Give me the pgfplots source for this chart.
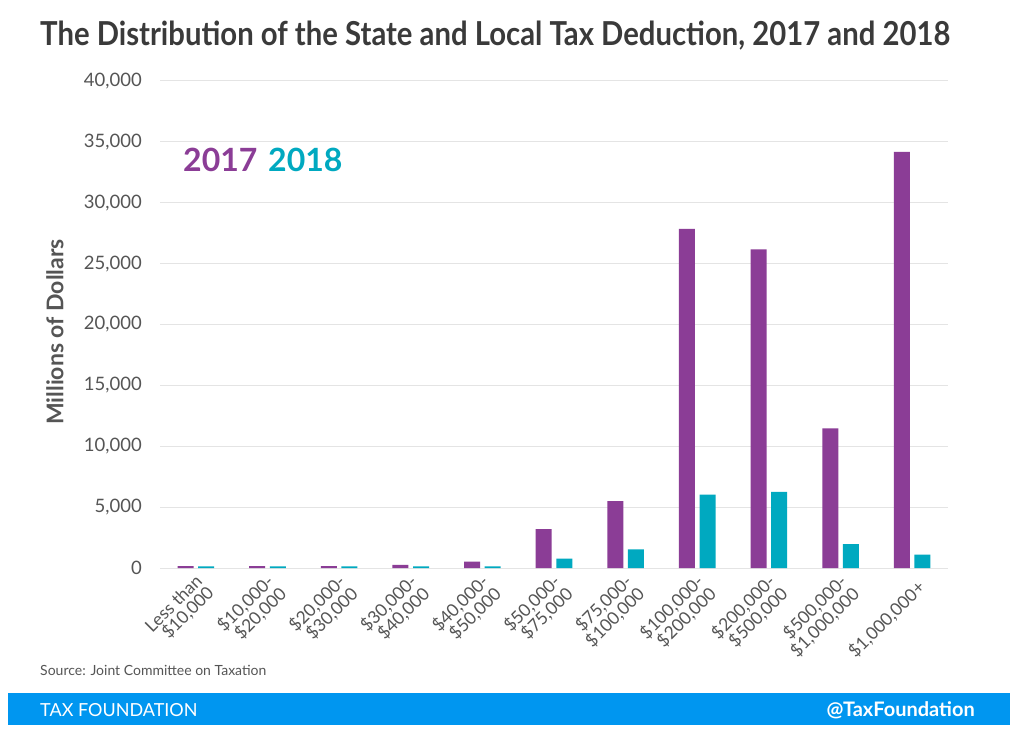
\documentclass[border=0pt]{standalone}
\usepackage{pgfplots}
\pgfplotsset{compat=1.18}
\usepackage{fontspec}
\setmainfont{Lato}
\usepackage{graphicx}
\definecolor{purp}{RGB}{139,61,150}
\definecolor{teal2}{RGB}{0,169,192}
\definecolor{tfblue}{RGB}{0,150,240}
\definecolor{txtgray}{RGB}{85,85,85}
\definecolor{titlegray}{RGB}{58,58,58}
\definecolor{gridgray}{RGB}{228,228,228}
\begin{document}
\begin{tikzpicture}[x=1pt,y=1pt]
\path[use as bounding box, fill=white] (0,0) rectangle (1024,729);
\begin{axis}[
  at={(160pt,161pt)}, anchor=south west,
  scale only axis, width=788pt, height=487pt,
  ymin=0, ymax=40000, xmin=-0.5, xmax=10.5,
  ybar=4.6pt, bar width=16pt,
  axis lines*=left, axis line style={draw=none},
  ymajorgrids, grid style={gridgray, line width=1pt},
  major tick length=0pt,
  ytick={0,5000,...,40000},
  scaled y ticks=false,
  /pgf/number format/.cd, 1000 sep={,}, assume math mode=true, /pgfplots/.cd,
  yticklabel style={font=\fontsize{18.5}{20}\selectfont, text=txtgray, inner sep=0pt, xshift=-18pt},
  xtick={0,...,10},
  xticklabels={{Less than\\\$10,000},{\$10,000-\\\$20,000},{\$20,000-\\\$30,000},{\$30,000-\\\$40,000},{\$40,000-\\\$50,000},{\$50,000-\\\$75,000},{\$75,000-\\\$100,000},{\$100,000-\\\$200,000},{\$200,000-\\\$500,000},{\$500,000-\\\$1,000,000},{\$1,000,000+}},
  xticklabel style={font=\fontsize{17.5}{16.5}\selectfont, text=txtgray, align=right, xshift=12pt, yshift=-14pt, rotate=45, anchor=east},
]
\addplot[fill=purp, draw=none] coordinates {(0,160) (1,160) (2,160) (3,260) (4,530) (5,3200) (6,5500) (7,27850) (8,26180) (9,11460) (10,34180)};
\addplot[fill=teal2, draw=none] coordinates {(0,130) (1,130) (2,130) (3,130) (4,140) (5,770) (6,1530) (7,6030) (8,6250) (9,1970) (10,1090)};
\end{axis}
\node[anchor=base west, text=titlegray, inner sep=0pt] at (40,683) {\resizebox{910pt}{\height}{\fontsize{33}{36}\selectfont\bfseries The Distribution of the State and Local Tax Deduction, 2017 and 2018}};
\node[anchor=base west, inner sep=0pt, font=\fontsize{32}{32}\selectfont\bfseries, text=purp] at (183,557) {2017};
\node[anchor=base west, inner sep=0pt, font=\fontsize{32}{32}\selectfont\bfseries, text=teal2] at (268,557) {2018};
\node[rotate=90, font=\fontsize{23}{25}\selectfont\bfseries, text=txtgray] at (55,397) {Millions of Dollars};
\node[anchor=base west, inner sep=0pt, font=\fontsize{14}{16}\selectfont, text=txtgray] at (40,54) {Source: Joint Committee on Taxation};
\fill[tfblue] (8,4) rectangle (1010,36);
\node[anchor=base west, inner sep=0pt, text=white, font=\fontsize{18}{20}\selectfont] at (40,13) {TAX FOUNDATION};
\node[anchor=base east, inner sep=0pt, text=white, font=\fontsize{20}{22}\selectfont\bfseries] at (975,13) {@TaxFoundation};
\end{tikzpicture}
\end{document}
